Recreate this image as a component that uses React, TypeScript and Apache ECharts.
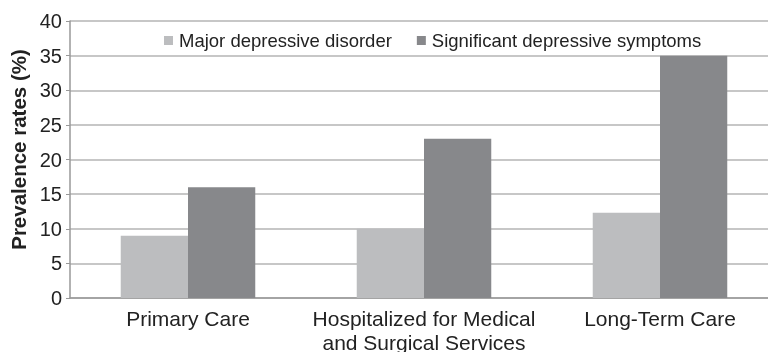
import React, { useEffect, useRef } from "react";
import * as echarts from "echarts";

const categories = [
  "Primary Care",
  "Hospitalized for Medical\nand Surgical Services",
  "Long-Term Care",
];
const seriesNames = ["Major depressive disorder", "Significant depressive symptoms"];
const majorDepressive = [9, 10, 12.3];
const significantSymptoms = [16, 23, 35];
const seriesColors = ["#bcbdbf", "#87888b"];

export default function App() {
  const ref = useRef<HTMLDivElement>(null);
  useEffect(() => {
    if (!ref.current) return;
    const chart = echarts.init(ref.current, null, { renderer: "svg" });
    const font = "Liberation Sans, Arial, sans-serif";
    chart.setOption({
      animation: false,
      textStyle: { fontFamily: font },
      legend: {
        data: seriesNames.map((n, i) => ({ name: n, itemStyle: { color: seriesColors[i] } })),
        top: 26,
        left: 159,
        itemWidth: 9,
        itemHeight: 9,
        itemGap: 25,
        icon: "rect",
        textStyle: { fontSize: 18.5, color: "#222", fontFamily: font, padding: [0, 0, 0, 1] },
      },
      grid: { left: 70, width: 708, top: 21, bottom: 54, outerBoundsMode: "none", containLabel: false },
      xAxis: {
        type: "category",
        data: categories,
        axisLine: { lineStyle: { color: "#999", width: 1.5 } },
        axisTick: { show: false },
        axisLabel: { fontSize: 21, color: "#222", lineHeight: 24, margin: 8, interval: 0, fontFamily: font },
      },
      yAxis: {
        type: "value",
        min: 0,
        max: 40,
        interval: 5,
        name: "Prevalence rates (%)",
        nameLocation: "middle",
        nameGap: 36,
        nameTextStyle: {
          fontSize: 20.5,
          fontWeight: "bold",
          color: "#222",
          fontFamily: font,
          padding: [0, 0, 0, 20],
        },
        axisLine: { show: true, lineStyle: { color: "#999", width: 1.5 } },
        axisTick: { show: true, length: 4, lineStyle: { color: "#999" } },
        axisLabel: { fontSize: 20, color: "#222", margin: 8, fontFamily: font },
        splitLine: { lineStyle: { color: "#b4b4b4", width: 1.5 } },
      },
      series: [
        {
          name: seriesNames[0],
          type: "bar",
          data: majorDepressive,
          itemStyle: { color: seriesColors[0] },
          barGap: "0%",
          barCategoryGap: "43%",
        },
        {
          name: seriesNames[1],
          type: "bar",
          data: significantSymptoms,
          itemStyle: { color: seriesColors[1] },
          barGap: "0%",
          barCategoryGap: "43%",
        },
      ],
    });
    return () => chart.dispose();
  }, []);
  return (
    <div
      ref={ref}
      style={{ position: "fixed", left: 0, top: 0, width: 768, height: 352 }}
    />
  );
}
